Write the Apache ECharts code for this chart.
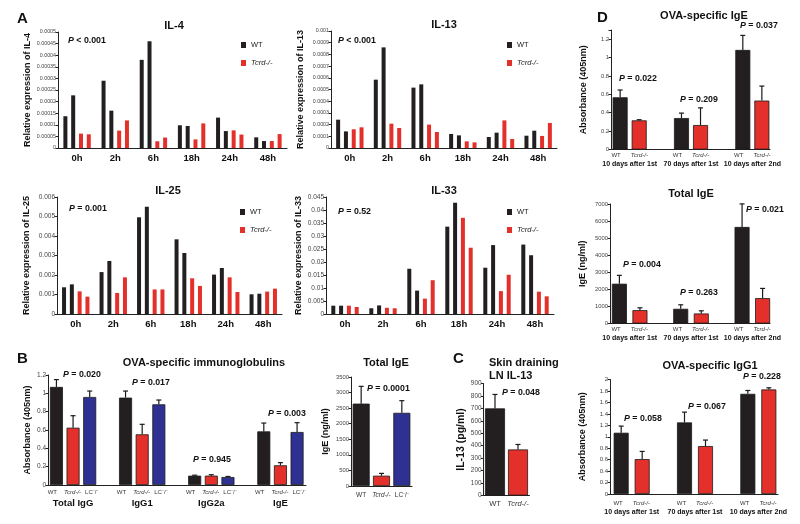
<!DOCTYPE html>
<html>
<head>
<meta charset="utf-8">
<style>html,body{margin:0;background:#fff}#chart{width:800px;height:524px}</style>
</head>
<body>
<div id="chart"></div>
<script src="https://cdn.jsdelivr.net/npm/echarts@6/dist/echarts.min.js"></script>
<script>
// ---- values ----
var hours = ['0h', '2h', '6h', '18h', '24h', '48h'];

var il4Wt1 = [0.000137, 0.00029, 0.00038, 0.000098, 0.000131, 0.000046];
var il4Wt2 = [0.000227, 0.000161, 0.00046, 0.000095, 0.000073, 0.00003];
var il4Ko1 = [0.000062, 0.000075, 0.000029, 0.000037, 0.000076, 0.00003];
var il4Ko2 = [0.000059, 0.000119, 0.000045, 0.000106, 0.000058, 0.00006];

var il13Wt1 = [0.000242, 0.000584, 0.000516, 0.00012, 0.000094, 0.000105];
var il13Wt2 = [0.000142, 0.00086, 0.000544, 0.000108, 0.000131, 0.000148];
var il13Ko1 = [0.00016, 0.000208, 0.0002, 0.000057, 0.000236, 0.000103];
var il13Ko2 = [0.000177, 0.000171, 0.000137, 0.000048, 0.000077, 0.000214];

var il25Wt1 = [0.00137, 0.00215, 0.00496, 0.00383, 0.00202, 0.00101];
var il25Wt2 = [0.00152, 0.00272, 0.0055, 0.00313, 0.00236, 0.00104];
var il25Ko1 = [0.00116, 0.00108, 0.00126, 0.00183, 0.00188, 0.00115];
var il25Ko2 = [0.00089, 0.00188, 0.00126, 0.00144, 0.00113, 0.0013];

var il33Wt1 = [0.0032, 0.0022, 0.0174, 0.0336, 0.0178, 0.0267];
var il33Wt2 = [0.0032, 0.0033, 0.009, 0.0428, 0.0265, 0.0226];
var il33Ko1 = [0.0032, 0.0024, 0.0059, 0.037, 0.0088, 0.0086];
var il33Ko2 = [0.0027, 0.0022, 0.013, 0.0255, 0.0151, 0.0068];

var igCats = ['Total IgG', 'IgG1', 'IgG2a', 'IgE'];
var igWt = [1.07, 0.953, 0.102, 0.585];
var igWtErr = [0.08, 0.072, 0.005, 0.091];
var igKo = [0.625, 0.553, 0.102, 0.215];
var igKoErr = [0.131, 0.109, 0.01, 0.029];
var igLc = [0.96, 0.88, 0.087, 0.578];
var igLcErr = [0.065, 0.047, 0.006, 0.102];

var totCats = ['WT', 'Tcrd-/-', 'LC⁻/⁻'];
var totIge = [2645, 330, 2350];
var totIgeErr = [555, 75, 390];

var lnCats = ['WT', 'Tcrd-/-'];
var lnIl13 = [700, 370];
var lnIl13Err = [112, 40];

var dCats = ['10 days after 1st', '70 days after 1st', '10 days after 2nd'];
var ovaIgeWt = [0.568, 0.342, 1.083];
var ovaIgeWtErr = [0.079, 0.054, 0.158];
var ovaIgeKo = [0.317, 0.266, 0.532];
var ovaIgeKoErr = [0.007, 0.187, 0.158];

var sumIgeWt = [2330, 861, 5655];
var sumIgeWtErr = [490, 235, 1351];
var sumIgeKo = [783, 587, 1487];
var sumIgeKoErr = [137, 157, 568];

var ovaG1Wt = [1.07, 1.25, 1.75];
var ovaG1WtErr = [0.116, 0.18, 0.058];
var ovaG1Ko = [0.61, 0.837, 1.826];
var ovaG1KoErr = [0.134, 0.105, 0.029];

// ---- styling ----
var FONT = '"Liberation Sans", Arial, sans-serif';
var BLACK = '#231f20', RED = '#e4302a', BLUE = '#2e3192';

var chart = echarts.init(document.getElementById('chart'));

function fmt(v) { return String(parseFloat((+v).toPrecision(6))); }

function yAx(gi, max, step, name, gap, fs, nameFs, labelMax) {
  return {
    type: 'value', gridIndex: gi, min: 0, max: max, interval: step,
    name: name, nameLocation: 'middle', nameGap: gap, nameRotate: 90,
    nameTextStyle: {fontSize: nameFs || 9, fontWeight: 'bold', color: '#111'},
    axisLine: {show: true, lineStyle: {color: '#222', width: 1}},
    axisTick: {show: true, length: 2.5, lineStyle: {color: '#222'}},
    axisLabel: {fontSize: fs, color: '#444', margin: 2,
      formatter: function (v) { return (labelMax != null && v > labelMax) ? '' : fmt(v); }},
    splitLine: {show: false}
  };
}
function yHidden(gi, max) { return {type: 'value', gridIndex: gi, min: 0, max: max, show: false}; }

function xHours(gi) {
  return {type: 'category', gridIndex: gi, data: hours,
    axisLine: {lineStyle: {color: '#222'}}, axisTick: {show: false},
    axisLabel: {interval: 0, margin: 5, fontSize: 9.5, fontWeight: 'bold', color: '#111'}};
}
function xFrame(gi, cats) {
  return {type: 'category', gridIndex: gi, data: cats,
    axisLine: {lineStyle: {color: '#222'}}, axisTick: {show: false}, axisLabel: {show: false}};
}
function xData(gi, cats, margin, fmtFn, rich) {
  return {type: 'category', gridIndex: gi, data: cats,
    axisLine: {show: false}, axisTick: {show: false},
    axisLabel: {interval: 0, margin: margin, formatter: fmtFn, rich: rich}};
}
function xSimple(gi, cats, fs, margin) {
  return {type: 'category', gridIndex: gi, data: cats,
    axisLine: {lineStyle: {color: '#222'}}, axisTick: {show: false},
    axisLabel: {interval: 0, margin: margin, fontSize: fs, color: '#333',
      formatter: function (v) { return v === 'Tcrd-/-' ? '{i|' + v + '}' : v; },
      rich: {i: {fontSize: fs, fontStyle: 'italic', color: '#333'}}}};
}

function hourBars(gi, w1, w2, k1, k2) {
  var names = ['WT', 'WT', 'Tcrd-/-', 'Tcrd-/-'];
  var cols = [BLACK, BLACK, RED, RED];
  return [w1, w2, k1, k2].map(function (d, k) {
    return {type: 'bar', name: names[k], xAxisIndex: gi, yAxisIndex: gi, data: d,
      barWidth: 4, barGap: '95%', itemStyle: {color: cols[k]}, silent: true};
  });
}
function bars(gi, name, d, color, bw, gap) {
  return {type: 'bar', name: name, xAxisIndex: gi, yAxisIndex: gi, data: d,
    barWidth: bw, barGap: gap, silent: true,
    itemStyle: {color: color, borderColor: '#1a1a1a', borderWidth: 0.8}};
}
function errBars(gi, vals, errs, k, n, bw, gapRatio) {
  var off = (k - (n - 1) / 2) * bw * (1 + gapRatio);
  return {
    type: 'custom', xAxisIndex: gi, yAxisIndex: gi, z: 5, silent: true,
    data: vals.map(function (v, i) { return [i, v, errs[i]]; }),
    renderItem: function (params, api) {
      var b = api.coord([api.value(0), api.value(1)]);
      var t = api.coord([api.value(0), api.value(1) + api.value(2)]);
      var x = b[0] + off;
      var st = {stroke: '#1a1a1a', lineWidth: 1.2};
      return {type: 'group', children: [
        {type: 'line', shape: {x1: x, y1: b[1], x2: x, y2: t[1]}, style: st},
        {type: 'line', shape: {x1: x - 2.5, y1: t[1], x2: x + 2.5, y2: t[1]}, style: st}
      ]};
    }
  };
}

function legendAt(x, y) {
  return {orient: 'vertical', left: x, top: y, padding: 0, itemWidth: 5, itemHeight: 6, itemGap: 10,
    icon: 'rect', data: ['WT', 'Tcrd-/-'], selectedMode: false,
    formatter: function (n) { return n === 'WT' ? n : '{i|' + n + '}'; },
    textStyle: {fontSize: 7.5, color: '#222', rich: {i: {fontSize: 7.5, fontStyle: 'italic', color: '#222'}}}};
}

function txt(text, x, y, size, align) {
  return {text: text, left: x, top: y, padding: 0, textAlign: align || 'left', textVerticalAlign: 'middle',
    textStyle: {fontSize: size, fontWeight: 'bold', color: '#111', fontFamily: FONT,
      rich: {i: {fontSize: size, fontStyle: 'italic', fontWeight: 'bold', color: '#111', fontFamily: FONT}}}};
}
function pval(text, x, y) { return txt('{i|P} ' + text, x, y, 8.8); }

var smallRich = {
  s: {fontSize: 6, color: '#333', lineHeight: 9, padding: [0, 7, 0, 0]},
  i: {fontSize: 6, color: '#333', fontStyle: 'italic', lineHeight: 9, padding: [0, 4, 0, 0]},
  l: {fontSize: 6, color: '#333', lineHeight: 9},
  b: {fontSize: 9.5, fontWeight: 'bold', color: '#111', lineHeight: 12}
};
var dRich = {
  s: {fontSize: 6, color: '#333', lineHeight: 8, padding: [0, 10, 0, 0]},
  i: {fontSize: 6, color: '#333', fontStyle: 'italic', lineHeight: 8},
  b: {fontSize: 7, fontWeight: 'bold', color: '#111', lineHeight: 10}
};
function igLabel(v) { return '{s|WT}{i|Tcrd-/-}{l|LC⁻/⁻}\n{b|' + v + '}'; }
function dLabel(v) { return '{s|WT}{i|Tcrd-/-}\n{b|' + v + '}'; }

var grids = [
  {left: 58, top: 32, width: 229, height: 116},        // 0 IL-4
  {left: 331, top: 31, width: 226, height: 117},       // 1 IL-13
  {left: 57, top: 197, width: 225, height: 117},       // 2 IL-25
  {left: 326, top: 197, width: 228, height: 117},      // 3 IL-33
  {left: 48, top: 375, width: 258, height: 110},       // 4 B frame
  {left: 38.5, top: 375, width: 276.5, height: 110},   // 5 B bars
  {left: 351, top: 377, width: 61, height: 109},       // 6 B total IgE
  {left: 483.5, top: 383.5, width: 46, height: 112},   // 7 C
  {left: 611, top: 30, width: 159, height: 119.5},     // 8 D OVA IgE frame
  {left: 599, top: 30, width: 184, height: 119.5},     // 9 D OVA IgE bars
  {left: 610, top: 204, width: 160, height: 119.5},    // 10 D total IgE frame
  {left: 599, top: 204, width: 184, height: 119.5},    // 11 D total IgE bars
  {left: 610, top: 379.5, width: 168, height: 114.5},  // 12 D IgG1 frame
  {left: 600, top: 379.5, width: 190, height: 114.5}   // 13 D IgG1 bars
];

var xAxes = [
  xHours(0), xHours(1), xHours(2), xHours(3),
  xFrame(4, igCats), xData(5, igCats, 3, igLabel, smallRich),
  xSimple(6, totCats, 6.5, 6), xSimple(7, lnCats, 7.5, 4),
  xFrame(8, dCats), xData(9, dCats, 2, dLabel, dRich),
  xFrame(10, dCats), xData(11, dCats, 2, dLabel, dRich),
  xFrame(12, dCats), xData(13, dCats, 5, dLabel, dRich)
];

var yAxes = [
  yAx(0, 0.0005, 0.00005, 'Relative expression of IL-4', 26, 5.3),
  yAx(1, 0.001, 0.0001, 'Relative expression of IL-13', 26, 5.3),
  yAx(2, 0.006, 0.001, 'Relative expression of IL-25', 26, 6.5),
  yAx(3, 0.045, 0.005, 'Relative expression of IL-33', 23, 6.5),
  yAx(4, 1.2, 0.2, 'Absorbance (405nm)', 16, 6.5),
  yHidden(5, 1.2),
  yAx(6, 3500, 500, 'IgE (ng/ml)', 21, 5.8),
  yAx(7, 900, 100, 'IL-13 (pg/ml)', 17, 6.4, 10.5),
  yAx(8, 1.3, 0.2, 'Absorbance (405nm)', 23, 5.8, 9, 1.25),
  yHidden(9, 1.3),
  yAx(10, 7000, 1000, 'IgE (ng/ml)', 23, 5.8),
  yHidden(11, 7000),
  yAx(12, 2, 0.2, 'Absorbance (405nm)', 23, 6),
  yHidden(13, 2)
];

var series = [].concat(
  hourBars(0, il4Wt1, il4Wt2, il4Ko1, il4Ko2),
  hourBars(1, il13Wt1, il13Wt2, il13Ko1, il13Ko2),
  hourBars(2, il25Wt1, il25Wt2, il25Ko1, il25Ko2),
  hourBars(3, il33Wt1, il33Wt2, il33Ko1, il33Ko2),
  [
    bars(5, 'B WT', igWt, BLACK, 13, '28%'),
    bars(5, 'B Tcrd', igKo, RED, 13, '28%'),
    bars(5, 'B LC', igLc, BLUE, 13, '28%'),
    errBars(5, igWt, igWtErr, 0, 3, 13, 0.28),
    errBars(5, igKo, igKoErr, 1, 3, 13, 0.28),
    errBars(5, igLc, igLcErr, 2, 3, 13, 0.28),

    bars(6, 'B total IgE', totIge.map(function (v, i) {
      return {value: v, itemStyle: {color: [BLACK, RED, BLUE][i]}};
    }), BLACK, 17, '0%'),
    errBars(6, totIge, totIgeErr, 0, 1, 17, 0),

    bars(7, 'C IL-13', lnIl13.map(function (v, i) {
      return {value: v, itemStyle: {color: [BLACK, RED][i]}};
    }), BLACK, 20, '0%'),
    errBars(7, lnIl13, lnIl13Err, 0, 1, 20, 0),

    bars(9, 'D1 WT', ovaIgeWt, BLACK, 15, '27%'),
    bars(9, 'D1 Tcrd', ovaIgeKo, RED, 15, '27%'),
    errBars(9, ovaIgeWt, ovaIgeWtErr, 0, 2, 15, 0.27),
    errBars(9, ovaIgeKo, ovaIgeKoErr, 1, 2, 15, 0.27),

    bars(11, 'D2 WT', sumIgeWt, BLACK, 15, '37%'),
    bars(11, 'D2 Tcrd', sumIgeKo, RED, 15, '37%'),
    errBars(11, sumIgeWt, sumIgeWtErr, 0, 2, 15, 0.37),
    errBars(11, sumIgeKo, sumIgeKoErr, 1, 2, 15, 0.37),

    bars(13, 'D3 WT', ovaG1Wt, BLACK, 15, '40%'),
    bars(13, 'D3 Tcrd', ovaG1Ko, RED, 15, '40%'),
    errBars(13, ovaG1Wt, ovaG1WtErr, 0, 2, 15, 0.4),
    errBars(13, ovaG1Ko, ovaG1KoErr, 1, 2, 15, 0.4)
  ]
);

var titles = [
  txt('A', 17, 19, 15), txt('B', 17, 359, 15), txt('C', 453, 359, 15), txt('D', 597, 18, 15),
  txt('IL-4', 174, 26, 11, 'center'),
  txt('IL-13', 444, 25, 11, 'center'),
  txt('IL-25', 168, 191, 11, 'center'),
  txt('IL-33', 444, 191, 11, 'center'),
  pval('< 0.001', 68, 41), pval('< 0.001', 338, 41),
  pval('= 0.001', 69, 209), pval('= 0.52', 338, 212),
  txt('OVA-specific immunoglobulins', 204, 363, 11, 'center'),
  pval('= 0.020', 63, 375), pval('= 0.017', 132, 383),
  pval('= 0.945', 193, 460), pval('= 0.003', 268, 414),
  txt('Total IgE', 386, 363, 11, 'center'),
  pval('= 0.0001', 367, 389),
  txt('Skin draining', 489, 363, 11), txt('LN IL-13', 489, 376, 11),
  pval('= 0.048', 502, 393),
  txt('OVA-specific IgE', 704, 16, 11, 'center'),
  pval('= 0.022', 619, 79), pval('= 0.209', 680, 100), pval('= 0.037', 740, 26),
  txt('Total IgE', 691, 194, 11, 'center'),
  pval('= 0.004', 623, 265), pval('= 0.263', 680, 293), pval('= 0.021', 746, 210),
  txt('OVA-specific IgG1', 710, 366, 11, 'center'),
  pval('= 0.058', 624, 419), pval('= 0.067', 688, 407), pval('= 0.228', 743, 377)
];

chart.setOption({
  animation: false,
  backgroundColor: '#fff',
  textStyle: {fontFamily: FONT},
  title: titles,
  legend: [legendAt(241, 41), legendAt(507, 41), legendAt(240, 208), legendAt(507, 208)],
  grid: grids,
  xAxis: xAxes,
  yAxis: yAxes,
  series: series
});
</script>
</body>
</html>
